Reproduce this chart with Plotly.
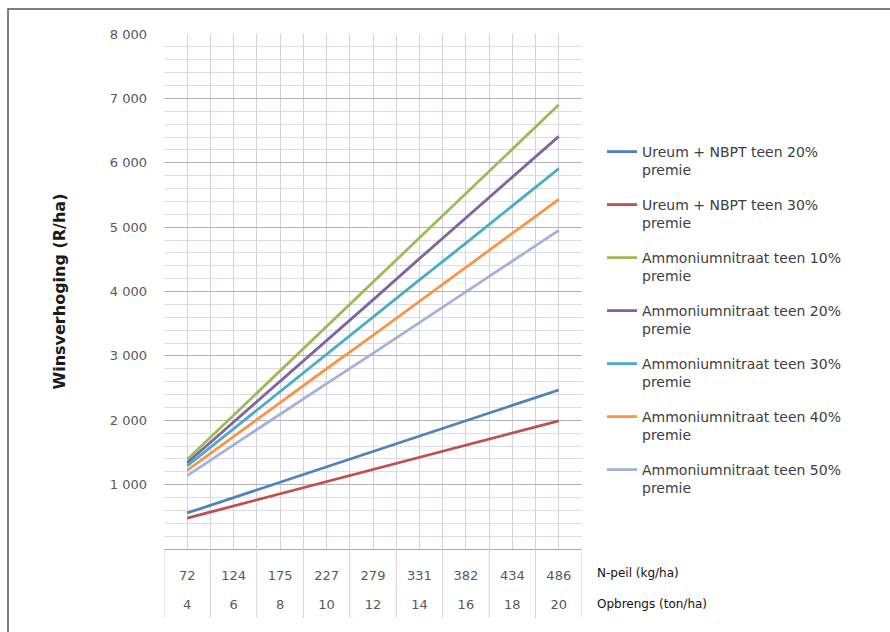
import plotly.graph_objects as go

# Category axis: two rows of labels under each column
n_peil = [72, 124, 175, 227, 279, 331, 382, 434, 486]      # N-peil (kg/ha)
opbrengs = [4, 6, 8, 10, 12, 14, 16, 18, 20]              # Opbrengs (ton/ha)

series_names = [
    "Ureum + NBPT teen 20%<br>premie",
    "Ureum + NBPT teen 30%<br>premie",
    "Ammoniumnitraat teen 10%<br>premie",
    "Ammoniumnitraat teen 20%<br>premie",
    "Ammoniumnitraat teen 30%<br>premie",
    "Ammoniumnitraat teen 40%<br>premie",
    "Ammoniumnitraat teen 50%<br>premie",
]

ureum_20 = [560, 800, 1040, 1280, 1520, 1760, 2000, 2240, 2470]
ureum_30 = [480, 670, 860, 1050, 1240, 1430, 1610, 1800, 1990]
an_10 = [1390, 2080, 2770, 3460, 4140, 4830, 5520, 6210, 6900]
an_20 = [1340, 1970, 2610, 3240, 3870, 4510, 5140, 5780, 6410]
an_30 = [1290, 1870, 2440, 3020, 3600, 4180, 4750, 5330, 5910]
an_40 = [1220, 1750, 2270, 2800, 3320, 3850, 4380, 4900, 5430]
an_50 = [1140, 1620, 2090, 2570, 3040, 3520, 4000, 4470, 4950]

series_values = [ureum_20, ureum_30, an_10, an_20, an_30, an_40, an_50]
series_colors = ["#4F81BD", "#C0504D", "#9BBB59", "#8064A2",
                 "#4BACC6", "#F79646", "#A3B1DB"]

y_ticks = [1000, 2000, 3000, 4000, 5000, 6000, 7000, 8000]

FONT = "DejaVu Sans"
W, H = 890, 632
ML, MR, MT, MB = 164, 308, 34, 83
plot_w = W - ML - MR
plot_h = H - MT - MB


def px_x(px):
    return (px - ML) / plot_w


def px_y(py):
    return (H - MB - py) / plot_h


idx = list(range(len(n_peil)))

fig = go.Figure()
for name, vals, col in zip(series_names, series_values, series_colors):
    fig.add_trace(go.Scatter(
        x=idx, y=vals, name=name, legendgroup=name,
        mode="lines", line=dict(color=col, width=2.8),
    ))

boundaries = [i - 0.5 for i in range(len(n_peil) + 1)]

fig.update_layout(
    width=W, height=H,
    margin=dict(l=ML, r=MR, t=MT, b=MB, pad=0),
    paper_bgcolor="white", plot_bgcolor="white",
    separators=", ",
    font=dict(family=FONT, size=13, color="#595959"),
    showlegend=True,
    legend=dict(
        x=px_x(602), xanchor="left",
        y=px_y(136), yanchor="top",
        traceorder="grouped", tracegroupgap=13.6,
        valign="top",
        font=dict(family=FONT, size=14, color="#404040"),
        bgcolor="rgba(0,0,0,0)",
    ),
    xaxis=dict(
        range=[-0.5, len(n_peil) - 0.5],
        tickmode="array", tickvals=idx, ticktext=[str(v) for v in n_peil],
        tickfont=dict(family=FONT, size=13, color="#595959"),
        ticks="", ticklabelstandoff=14,
        showgrid=True, gridcolor="#d2d2da", gridwidth=1,
        minor=dict(tickmode="array", tickvals=boundaries,
                   showgrid=True, gridcolor="#d2d2da", gridwidth=1, ticks=""),
        showline=True, linecolor="#a8a8b0", linewidth=1,
        zeroline=False, fixedrange=True,
    ),
    xaxis2=dict(
        overlaying="x", side="bottom", anchor="y",
        range=[-0.5, len(n_peil) - 0.5],
        tickmode="array", tickvals=idx, ticktext=[str(v) for v in opbrengs],
        tickfont=dict(family=FONT, size=13, color="#595959"),
        ticks="", ticklabelstandoff=46,
        showgrid=False, showline=False, zeroline=False,
    ),
    yaxis=dict(
        range=[0, 8000],
        tickmode="array", tickvals=y_ticks, tickformat=",d",
        tickfont=dict(family=FONT, size=13, color="#595959"),
        ticks="", ticklabelstandoff=16,
        showgrid=True, gridcolor="#b2b2ba", gridwidth=1,
        minor=dict(dtick=200, showgrid=True, gridcolor="#dcdce3", gridwidth=1),
        zeroline=False, showline=False, fixedrange=True,
        title=dict(text="<b>Winsverhoging (R/ha)</b>", standoff=40,
                   font=dict(family=FONT, size=16, color="#1a1a1a")),
    ),
)

# invisible anchor so the second label row renders on its own axis
fig.add_trace(go.Scatter(x=[None], y=[None], xaxis="x2", yaxis="y",
                         showlegend=False, hoverinfo="skip"))

# column dividers of the category table below the plot
for b in boundaries:
    fig.add_shape(type="line", xref="x", yref="paper",
                  x0=b, x1=b, y0=px_y(618), y1=0,
                  line=dict(color="#d2d2da", width=1))

# row captions of the category table
fig.add_annotation(text="N-peil (kg/ha)", xref="paper", yref="paper",
                   x=px_x(595), y=px_y(573), xanchor="left", yanchor="middle",
                   showarrow=False, font=dict(family=FONT, size=12, color="#111111"))
fig.add_annotation(text="Opbrengs (ton/ha)", xref="paper", yref="paper",
                   x=px_x(595), y=px_y(604), xanchor="left", yanchor="middle",
                   showarrow=False, font=dict(family=FONT, size=12, color="#111111"))

# outer frame of the chart
fig.add_shape(type="rect", xref="paper", yref="paper",
              x0=px_x(8), x1=px_x(900), y0=px_y(645), y1=px_y(9),
              line=dict(color="#555555", width=1.5), fillcolor="rgba(0,0,0,0)",
              layer="above")

fig.write_html("out.html")
